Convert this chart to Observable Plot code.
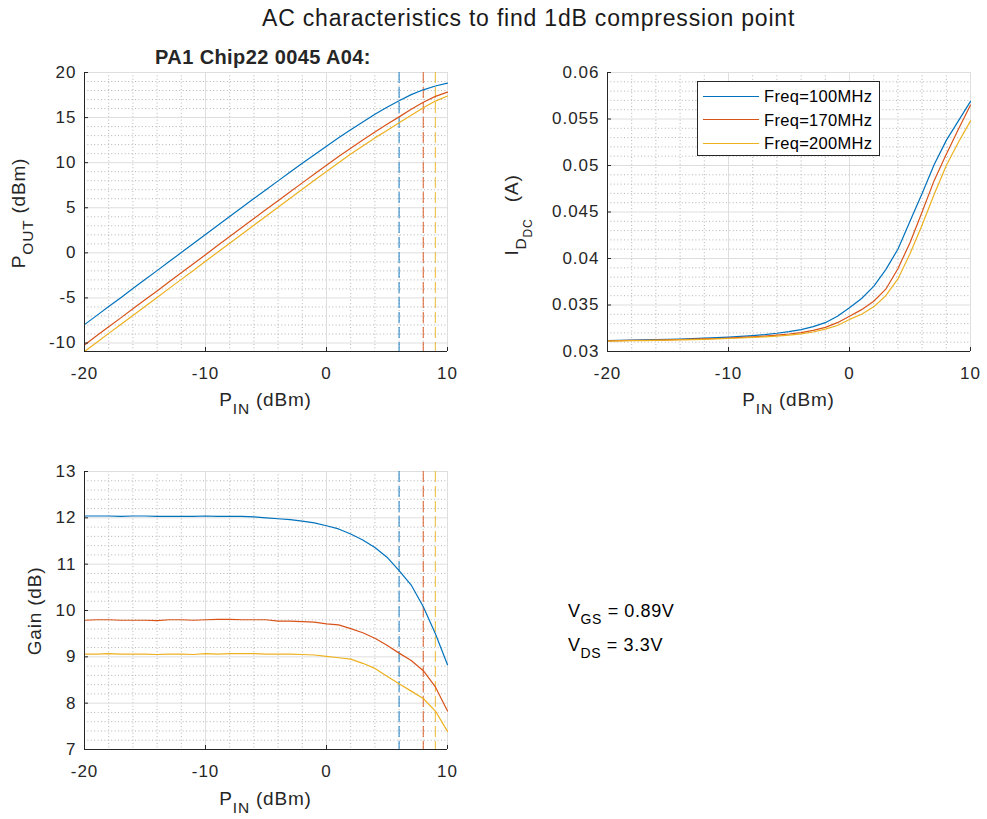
<!DOCTYPE html>
<html>
<head>
<meta charset="utf-8">
<script src="https://cdn.jsdelivr.net/npm/d3@7"></script>
<script src="https://cdn.jsdelivr.net/npm/@observablehq/plot@0.6"></script>
<style>
  html, body { margin: 0; padding: 0; background: #fff; overflow: hidden; }
  #fig { position: relative; width: 987px; height: 819px; font-family: "Liberation Sans", Arial, Helvetica, sans-serif; color: #262626; }
  #fig svg { position: absolute; }
</style>
</head>
<body>
<div id="fig"></div>
<script>
// ---------------- data ----------------
const pin = [-20,-19,-18,-17,-16,-15,-14,-13,-12,-11,-10,-9,-8,-7,-6,-5,-4,-3,-2,-1,0,1,2,3,4,5,6,7,8,9,10];
const series = ["Freq=100MHz", "Freq=170MHz", "Freq=200MHz"];
const colors = ["#0072BD", "#D95319", "#EDB120"];
const p1dB = [6, 8, 9];

const pout100 = [-7.96,-6.96,-5.96,-4.97,-3.96,-2.96,-1.97,-0.97,0.03,1.03,2.04,3.03,4.03,5.03,6.02,7.00,7.98,8.96,9.93,10.89,11.83,12.76,13.65,14.52,15.36,16.15,16.86,17.55,18.08,18.50,18.83];
const pout170 = [-10.21,-9.20,-8.20,-7.21,-6.21,-5.21,-4.22,-3.20,-2.20,-1.21,-0.20,0.81,1.81,2.80,3.80,4.80,5.77,6.77,7.76,8.75,9.71,10.69,11.61,12.52,13.40,14.25,15.08,15.92,16.70,17.35,17.83];
const pout200 = [-10.94,-9.94,-8.93,-7.94,-6.94,-5.94,-4.95,-3.94,-2.94,-1.95,-0.93,0.06,1.07,2.07,3.07,4.06,5.06,6.06,7.05,8.04,9.01,9.98,10.95,11.86,12.75,13.58,14.42,15.26,16.10,16.83,17.39];

const id100 = [0.03118,0.03120,0.03122,0.03124,0.03127,0.03130,0.03134,0.03138,0.03143,0.03149,0.03155,0.03162,0.03171,0.03182,0.03196,0.03213,0.03235,0.03268,0.03310,0.03380,0.03470,0.03570,0.03700,0.03880,0.04100,0.04400,0.04700,0.05010,0.05270,0.05480,0.05690];
const id170 = [0.03115,0.03117,0.03119,0.03121,0.03123,0.03126,0.03129,0.03132,0.03136,0.03140,0.03145,0.03151,0.03158,0.03166,0.03176,0.03188,0.03203,0.03228,0.03260,0.03310,0.03380,0.03450,0.03540,0.03670,0.03890,0.04170,0.04500,0.04840,0.05120,0.05390,0.05650];
const id200 = [0.03112,0.03114,0.03116,0.03118,0.03120,0.03122,0.03125,0.03128,0.03131,0.03135,0.03140,0.03145,0.03151,0.03158,0.03166,0.03176,0.03190,0.03210,0.03240,0.03280,0.03345,0.03400,0.03480,0.03600,0.03780,0.04050,0.04360,0.04690,0.05000,0.05250,0.05480];

const gain100 = [12.04,12.04,12.04,12.03,12.04,12.04,12.03,12.03,12.03,12.03,12.04,12.03,12.03,12.03,12.02,12.00,11.98,11.96,11.93,11.89,11.83,11.76,11.65,11.52,11.36,11.15,10.86,10.55,10.08,9.50,8.83];
const gain170 = [9.79,9.80,9.80,9.79,9.79,9.79,9.78,9.80,9.80,9.79,9.80,9.81,9.81,9.80,9.80,9.80,9.77,9.77,9.76,9.75,9.71,9.69,9.61,9.52,9.40,9.25,9.08,8.92,8.70,8.35,7.83];
const gain200 = [9.06,9.06,9.07,9.06,9.06,9.06,9.05,9.06,9.06,9.05,9.07,9.06,9.07,9.07,9.07,9.06,9.06,9.06,9.05,9.04,9.01,8.98,8.95,8.86,8.75,8.58,8.42,8.26,8.10,7.83,7.39];

const xDomain = [-20, 10];
const xTicks = [-20, -10, 0, 10];
const poutDomain = [-10.94, 20];
const poutTicks = [-10, -5, 0, 5, 10, 15, 20];
const idDomain = [0.03, 0.06];
const idTicks = [0.03, 0.035, 0.04, 0.045, 0.05, 0.055, 0.06];
const gainDomain = [7, 13];
const gainTicks = [7, 8, 9, 10, 11, 12, 13];

const mainTitle = "AC characteristics to find 1dB compression point";
const subTitle = "PA1 Chip22 0045 A04:";
const vgsText = ["GS", "= 0.89V"];
const vdsText = ["DS", "= 3.3V"];

// ---------------- tables ----------------
const pouts = [pout100, pout170, pout200];
const ids = [id100, id170, id200];
const gains = [gain100, gain170, gain200];
const rows = series.flatMap((s, k) => pin.map((p, i) => ({series: s, pin: p, pout: pouts[k][i], id: ids[k][i], gain: gains[k][i]})));
const p1dBRows = series.map((s, k) => ({series: s, p: p1dB[k]}));

const xMinor = d3.range(-20, 10.001, 2).filter(v => !xTicks.includes(v));
const poutMinor = d3.range(-10, 20.001, 1).filter(v => v % 5 !== 0);
const idMinor = d3.range(30, 60.001, 1).filter(v => v % 5 !== 0).map(v => v / 1000);
const gainMinor = d3.range(70, 130.001, 2).filter(v => v % 10 !== 0).map(v => v / 10);

const FONT = '"Liberation Sans", Arial, Helvetica, sans-serif';
const AX = "#262626";
const fig = document.getElementById("fig");

function panel(o) {
  const plotW = o.width - o.ml - o.mr, plotH = o.height - o.mt - o.mb;
  const grid = {stroke: "#dedede", strokeWidth: 1};
  const minor = {stroke: "#b4b4b4", strokeWidth: 1, strokeDasharray: "1,2.4"};
  const marks = [
    Plot.ruleX(xMinor, minor),
    Plot.ruleY(o.yMinor, minor),
    Plot.ruleX(xTicks, grid),
    Plot.ruleY(o.yTicks, grid)
  ];
  if (o.vlines) marks.push(Plot.ruleX(p1dBRows, {x: "p", stroke: "series", strokeWidth: 1.2, strokeOpacity: 0.75, strokeDasharray: "11,4"}));
  marks.push(
    Plot.line(rows, {x: "pin", y: o.field, z: "series", stroke: "series", strokeWidth: 1.2}),
    Plot.ruleX([xDomain[0]], {stroke: AX, strokeWidth: 1}),
    Plot.ruleY([o.yDomain[0]], {stroke: AX, strokeWidth: 1}),
    Plot.ruleX(xTicks, {stroke: AX, insetTop: plotH - 4}),
    Plot.ruleY(o.yTicks, {stroke: AX, insetRight: plotW - 4}),
    Plot.axisX({ticks: xTicks, tickSize: 0, tickPadding: 15, tickFormat: d => String(d), fontSize: 17, label: null}),
    Plot.axisY({ticks: o.yTicks, tickSize: 0, tickPadding: 8, tickFormat: d => String(d), fontSize: 17, label: null})
  );
  const svg = Plot.plot({
    width: o.width, height: o.height,
    marginLeft: o.ml, marginRight: o.mr, marginTop: o.mt, marginBottom: o.mb,
    x: {domain: xDomain},
    y: {domain: o.yDomain},
    color: {domain: series, range: colors},
    style: {fontFamily: FONT, color: AX, background: "transparent", letterSpacing: "1px", overflow: "visible"},
    marks
  });
  svg.style.left = o.left + "px";
  svg.style.top = o.top + "px";
  fig.appendChild(svg);
  return svg;
}

// text with sub/sub-sub scripts
function label(svg, {x, y, rotate = 0, anchor = "middle", size = 19, weight = "normal", ls = "0.8px", parts}) {
  const t = d3.select(svg).append("text")
    .attr("transform", `translate(${x},${y}) rotate(${rotate})`)
    .attr("text-anchor", anchor)
    .attr("font-family", FONT)
    .attr("font-size", size)
    .attr("font-weight", weight)
    .attr("fill", AX)
    .style("letter-spacing", ls);
  const sizes = [size, 15.5, 12];
  const shifts = [0, 8, 14];
  let level = 0;
  parts.forEach(p => {
    const lv = p.sub || 0;
    t.append("tspan").attr("dy", shifts[lv] - shifts[level]).attr("font-size", sizes[lv]).text(p.t);
    level = lv;
  });
  return t;
}

const pinLabel = [{t: "P"}, {t: "IN", sub: 1}, {t: " (dBm)"}];

// Panel 1 : Pout
const s1 = panel({left: 0, top: 40, width: 490, height: 390, ml: 84, mr: 43, mt: 32, mb: 79,
  yDomain: poutDomain, yTicks: poutTicks, yMinor: poutMinor, field: "pout", vlines: true});
label(s1, {x: 265.5, y: 366, parts: pinLabel});
label(s1, {x: 25, y: 173, rotate: -90, parts: [{t: "P"}, {t: "OUT", sub: 1}, {t: " (dBm)"}]});
label(s1, {x: 263, y: 24, size: 20, weight: "bold", ls: "0.4px", parts: [{t: subTitle}]});

// Panel 2 : Id
const s2 = panel({left: 490, top: 40, width: 497, height: 390, ml: 117, mr: 17, mt: 32, mb: 79,
  yDomain: idDomain, yTicks: idTicks, yMinor: idMinor, field: "id", vlines: false});
label(s2, {x: 298.5, y: 366, parts: pinLabel});
label(s2, {x: 28, y: 175, rotate: -90, parts: [{t: "I"}, {t: "D", sub: 1}, {t: "DC", sub: 2}, {t: "\u2002 (A)"}]});

// Panel 3 : Gain
const s3 = panel({left: 0, top: 440, width: 490, height: 379, ml: 84, mr: 43, mt: 31, mb: 70,
  yDomain: gainDomain, yTicks: gainTicks, yMinor: gainMinor, field: "gain", vlines: true});
label(s3, {x: 265.5, y: 365, parts: pinLabel});
label(s3, {x: 41, y: 171, rotate: -90, parts: [{t: "Gain (dB)"}]});

// Main title
const title = document.createElement("div");
title.textContent = mainTitle;
title.style.cssText = "position:absolute;left:262px;top:7px;font-size:23px;line-height:23px;letter-spacing:0.8px;color:#1a1a1a;white-space:nowrap;";
fig.appendChild(title);

// Legend
const leg = document.createElement("div");
leg.style.cssText = "position:absolute;left:697px;top:81px;width:183px;height:75px;box-sizing:border-box;border:1px solid #262626;background:#fff;";
series.forEach((s, i) => {
  const row = document.createElement("div");
  row.style.cssText = `position:absolute;left:0;top:${4 + i * 23.5}px;height:20px;width:100%;`;
  const ln = document.createElement("div");
  ln.style.cssText = `position:absolute;left:5px;top:9.5px;width:56px;border-top:1.2px solid ${colors[i]};`;
  const tx = document.createElement("div");
  tx.textContent = s;
  tx.style.cssText = "position:absolute;left:66px;top:0;line-height:20px;font-size:16.5px;letter-spacing:0.3px;color:#000;white-space:nowrap;";
  row.appendChild(ln); row.appendChild(tx);
  leg.appendChild(row);
});
fig.appendChild(leg);

// Bias annotation
function bias(top, parts) {
  const d = document.createElement("div");
  d.style.cssText = `position:absolute;left:568px;top:${top}px;font-size:18px;line-height:20px;letter-spacing:0.6px;color:#000;white-space:nowrap;`;
  d.innerHTML = `V<span style="font-size:14px;position:relative;top:7px;">${parts[0]}</span> ${parts[1]}`;
  fig.appendChild(d);
}
bias(601, vgsText);
bias(635, vdsText);
</script>
</body>
</html>
